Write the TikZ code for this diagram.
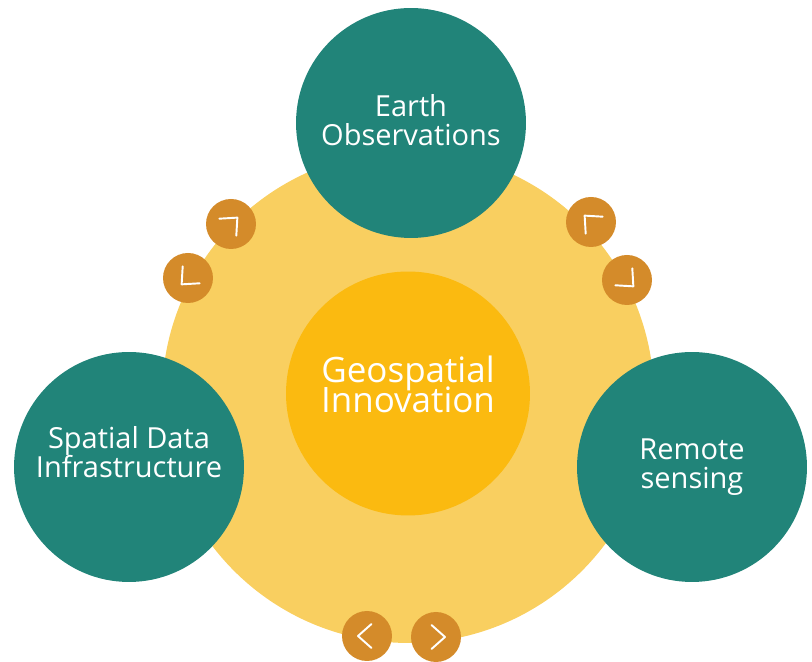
\documentclass[tikz,border=0pt]{standalone}
\usepackage{fontspec}
\setmainfont{Open Sans}
\usepackage{tikz}
\definecolor{cteal}{RGB}{33,132,121}
\definecolor{cring}{RGB}{249,207,96}
\definecolor{chub}{RGB}{251,186,16}
\definecolor{corange}{RGB}{212,139,42}
\newcommand{\tightlines}{\lineskiplimit=-20pt\relax}

\begin{document}
\begin{tikzpicture}[x=0.02cm,y=0.02cm,line cap=round,line join=round,
  ring node/.style={circle,fill=cring,minimum size=9.84cm,inner sep=0pt},
  hub node/.style={circle,fill=chub,minimum size=4.88cm,inner sep=0pt},
  topic node/.style={circle,fill=cteal,minimum size=4.6cm,inner sep=0pt},
  arrow node/.style={circle,fill=corange,minimum size=1cm,inner sep=0pt},
  text node/.style={text=white,align=center,inner sep=0pt,
    font=\fontsize{16.5}{16.5}\selectfont\tightlines},
  chevron/.style={draw=white,line width=1.1pt}]
  \useasboundingbox (0,0) rectangle (812,662);

  \node[ring node] (0) at (408,265) {};
  \node[hub node] (1) at (408,268.5) {};
  \node[topic node] (2) at (411,539) {};
  \node[topic node] (3) at (129,195) {};
  \node[topic node] (4) at (692,195) {};

  % labels
  \node[text node,font=\fontsize{19.9}{17}\selectfont\tightlines] (1t) at ([yshift=0.18cm]1) {Geospatial\\Innovation};
  \node[text node] (2t) at ([yshift=0.06cm]2) {Earth\\Observations};
  \node[text node] (3t) at ([yshift=0.3cm]3) {Spatial Data\\Infrastructure};
  \node[text node] (4t) at (4) {Remote\\sensing};

  % arrow buttons
  \node[arrow node] (5) at (231,438) {};
  \node[arrow node] (6) at (188,384) {};
  \node[arrow node] (7) at (591,440) {};
  \node[arrow node] (8) at (627,382) {};
  \node[arrow node] (9) at (367,26) {};
  \node[arrow node] (10) at (436,25) {};

  \foreach \n/\a in {5/45,6/225,7/135,8/-45,9/180,10/0}
    \draw[chevron,shift={(\n.center)},rotate=\a] (-4.5,12) -- (9,0) -- (-4.5,-12);
\end{tikzpicture}
\end{document}
